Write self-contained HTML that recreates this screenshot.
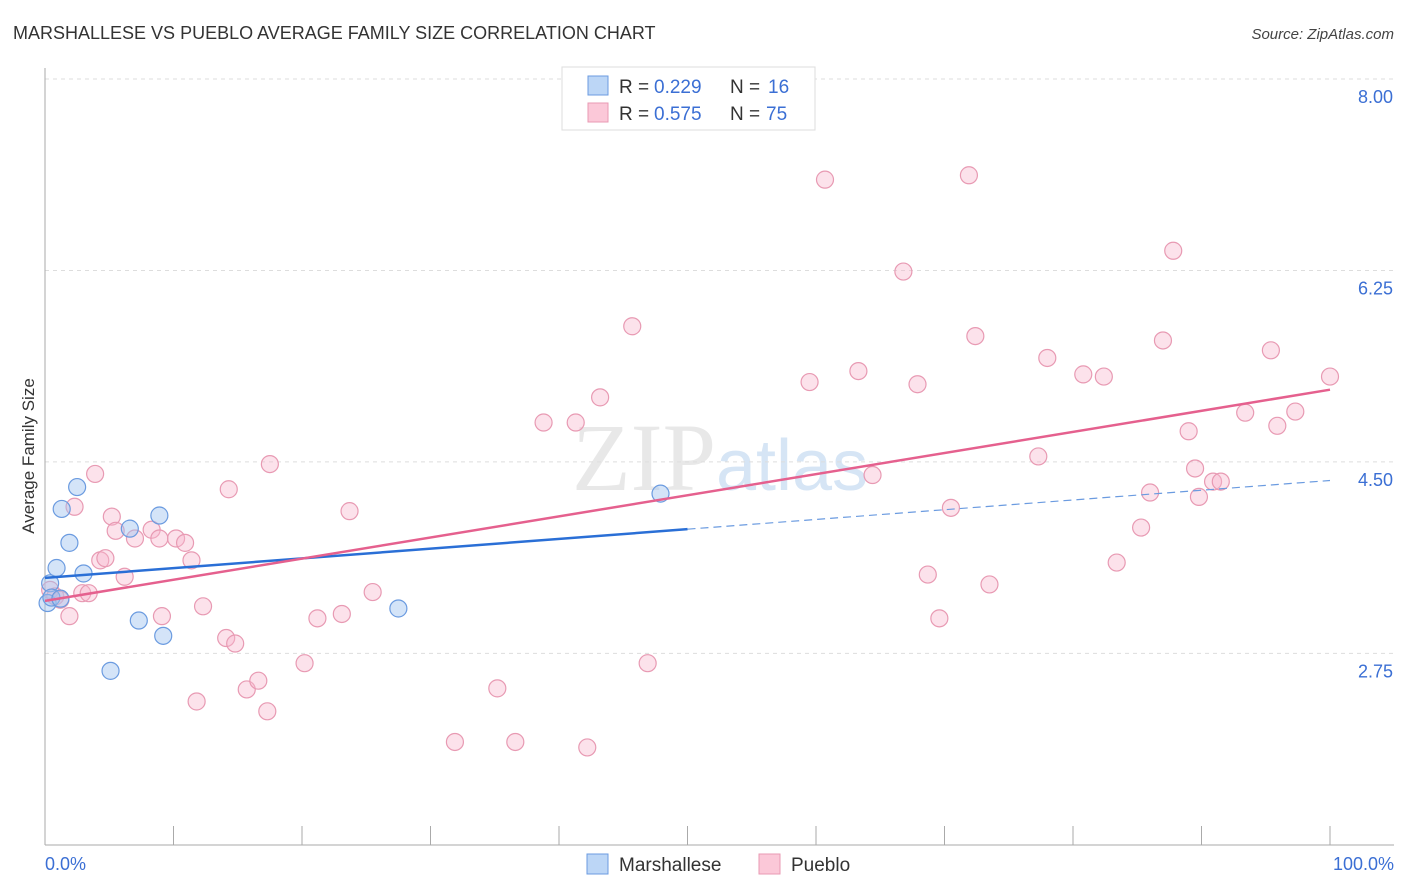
<!DOCTYPE html>
<html><head><meta charset="utf-8"><style>
body{margin:0;background:#fff;font-family:"Liberation Sans",sans-serif}
svg{display:block}
</style></head><body>
<svg id="chart" width="1406" height="892" xmlns="http://www.w3.org/2000/svg" font-family="Liberation Sans, sans-serif">
<text x="13" y="39" font-size="18" fill="#333">MARSHALLESE VS PUEBLO AVERAGE FAMILY SIZE CORRELATION CHART</text>
<text x="1394" y="39" font-size="15" fill="#444" font-style="italic" text-anchor="end">Source: ZipAtlas.com</text>
<text x="720" y="490" font-size="96" fill="#e8e8e8" text-anchor="middle" font-family="Liberation Serif, serif">ZIP<tspan fill="#d6e5f5" font-family="Liberation Sans, sans-serif" font-size="72">atlas</tspan></text>
<g id="grid"></g><g id="axes"></g><g id="marks"></g>
<text transform="translate(34,456) rotate(-90)" font-size="17" fill="#333" text-anchor="middle">Average Family Size</text>
<g>
<rect x="562" y="67" width="253" height="63" fill="#fff" stroke="#ddd"/>
<rect x="588" y="76" width="20" height="19" fill="#bcd6f6" stroke="#6b9be0"/>
<text x="619" y="93" font-size="19" fill="#333">R = </text>
<text x="654" y="93" font-size="19" fill="#3b6fd4">0.229</text>
<text x="730" y="93" font-size="19" fill="#333">N = </text>
<text x="768" y="93" font-size="19" fill="#3b6fd4">16</text>
<rect x="588" y="103" width="20" height="19" fill="#fbc8d8" stroke="#e89ab3"/>
<text x="619" y="120" font-size="19" fill="#333">R = </text>
<text x="654" y="120" font-size="19" fill="#3b6fd4">0.575</text>
<text x="730" y="120" font-size="19" fill="#333">N = </text>
<text x="766" y="120" font-size="19" fill="#3b6fd4">75</text>
</g>
<g>
<rect x="587" y="854" width="21" height="20" fill="#bcd6f6" stroke="#6b9be0"/>
<text x="619" y="871" font-size="19" fill="#333">Marshallese</text>
<rect x="759" y="854" width="21" height="20" fill="#fbc8d8" stroke="#e89ab3"/>
<text x="791" y="871" font-size="19" fill="#333">Pueblo</text>
</g>
<text x="45" y="870" font-size="18" fill="#3b6fd4">0.0%</text>
<text x="1394" y="870" font-size="18" fill="#3b6fd4" text-anchor="end">100.0%</text>
</svg>
<script>
const yTicks=[8.00,6.25,4.50,2.75];
const xTickPcts=[0,10,20,30,40,50,60,70,80,90,100];
const blueX=[0.2,0.4,0.5,0.9,1.2,1.3,1.9,2.5,3.0,5.1,6.6,7.3,8.9,9.2,27.5,47.9];
const blueY=[3.21,3.39,3.26,3.53,3.25,4.07,3.76,4.27,3.48,2.59,3.89,3.05,4.01,2.91,3.16,4.21];
const pinkX=[0.4,0.8,1.2,1.9,2.3,2.9,3.4,3.9,4.3,4.7,5.2,5.5,6.2,7.0,8.3,8.9,9.1,10.2,10.9,11.4,11.8,12.3,14.1,14.3,14.8,15.7,16.6,17.3,17.5,20.2,21.2,23.1,23.7,25.5,31.9,35.2,36.6,38.8,41.3,42.2,43.2,45.7,46.9,59.5,60.7,63.3,66.8,67.9,68.7,69.6,70.5,71.9,72.4,73.5,77.3,78.0,80.8,82.4,83.4,85.3,86.0,87.0,87.8,89.0,89.5,89.8,90.9,91.5,93.4,95.4,95.9,97.3,100,64.4];
const pinkY=[3.33,3.27,3.24,3.09,4.09,3.30,3.30,4.39,3.60,3.62,4.00,3.87,3.45,3.80,3.88,3.80,3.09,3.80,3.76,3.60,2.31,3.18,2.89,4.25,2.84,2.42,2.50,2.22,4.48,2.66,3.07,3.11,4.05,3.31,1.94,2.43,1.94,4.86,4.86,1.89,5.09,5.74,2.66,5.23,7.08,5.33,6.24,5.21,3.47,3.07,4.08,7.12,5.65,3.38,4.55,5.45,5.30,5.28,3.58,3.90,4.22,5.61,6.43,4.78,4.44,4.18,4.32,4.32,4.95,5.52,4.83,4.96,5.28,4.38];
const blueFit=[3.44,4.33];
const pinkFit=[3.23,5.16];
const NS='http://www.w3.org/2000/svg';
const X=p=>45+p*12.85, Y=v=>79+(8-v)*109.4;
function mk(t,a,parent){const e=document.createElementNS(NS,t);for(const k in a)e.setAttribute(k,a[k]);parent.appendChild(e);return e;}
const grid=document.getElementById('grid'),axes=document.getElementById('axes'),marks=document.getElementById('marks');
yTicks.forEach(v=>{
 const l=mk('line',{x1:45,x2:1394,y1:Y(v),y2:Y(v),stroke:'#ddd','stroke-dasharray':'4,4'},grid);
 
 
 const t=mk('text',{x:1393,y:Y(v)+24,'font-size':18,fill:'#3b6fd4','text-anchor':'end'},grid);
 t.textContent=v.toFixed(2);
 
 
});
const ya=mk('line',{x1:45,x2:45,y1:68,y2:845,stroke:'#aaa'},axes);


const xa=mk('line',{x1:45,x2:1394,y1:845,y2:845,stroke:'#aaa'},axes);


xTickPcts.forEach(p=>{
 const t=mk('line',{x1:X(p),x2:X(p),y1:826,y2:845,stroke:'#aaa'},axes);
 
 
});
function dots(xs,ys,fill,stroke,name){xs.forEach((x,i)=>{
 const c=mk('circle',{cx:X(x),cy:Y(ys[i]),r:8.5,fill:fill,stroke:stroke,'stroke-width':1.2},marks);
 
 
});}
dots(pinkX,pinkY,'rgba(248,182,204,0.4)','#e89ab3','pueblo-point');
dots(blueX,blueY,'rgba(160,196,240,0.45)','#6b9be0','marshallese-point');
const fv=(f,p)=>f[0]+(f[1]-f[0])*p/100;
let l=mk('line',{x1:X(0),y1:Y(fv(blueFit,0)),x2:X(50),y2:Y(fv(blueFit,50)),stroke:'#2a6fd6','stroke-width':2.5},marks);


l=mk('line',{x1:X(50),y1:Y(fv(blueFit,50)),x2:X(100),y2:Y(fv(blueFit,100)),stroke:'#6b9be0','stroke-width':1.2,'stroke-dasharray':'8,5'},marks);


l=mk('line',{x1:X(0),y1:Y(fv(pinkFit,0)),x2:X(100),y2:Y(fv(pinkFit,100)),stroke:'#e5608e','stroke-width':2.5},marks);


</script>
</body></html>
